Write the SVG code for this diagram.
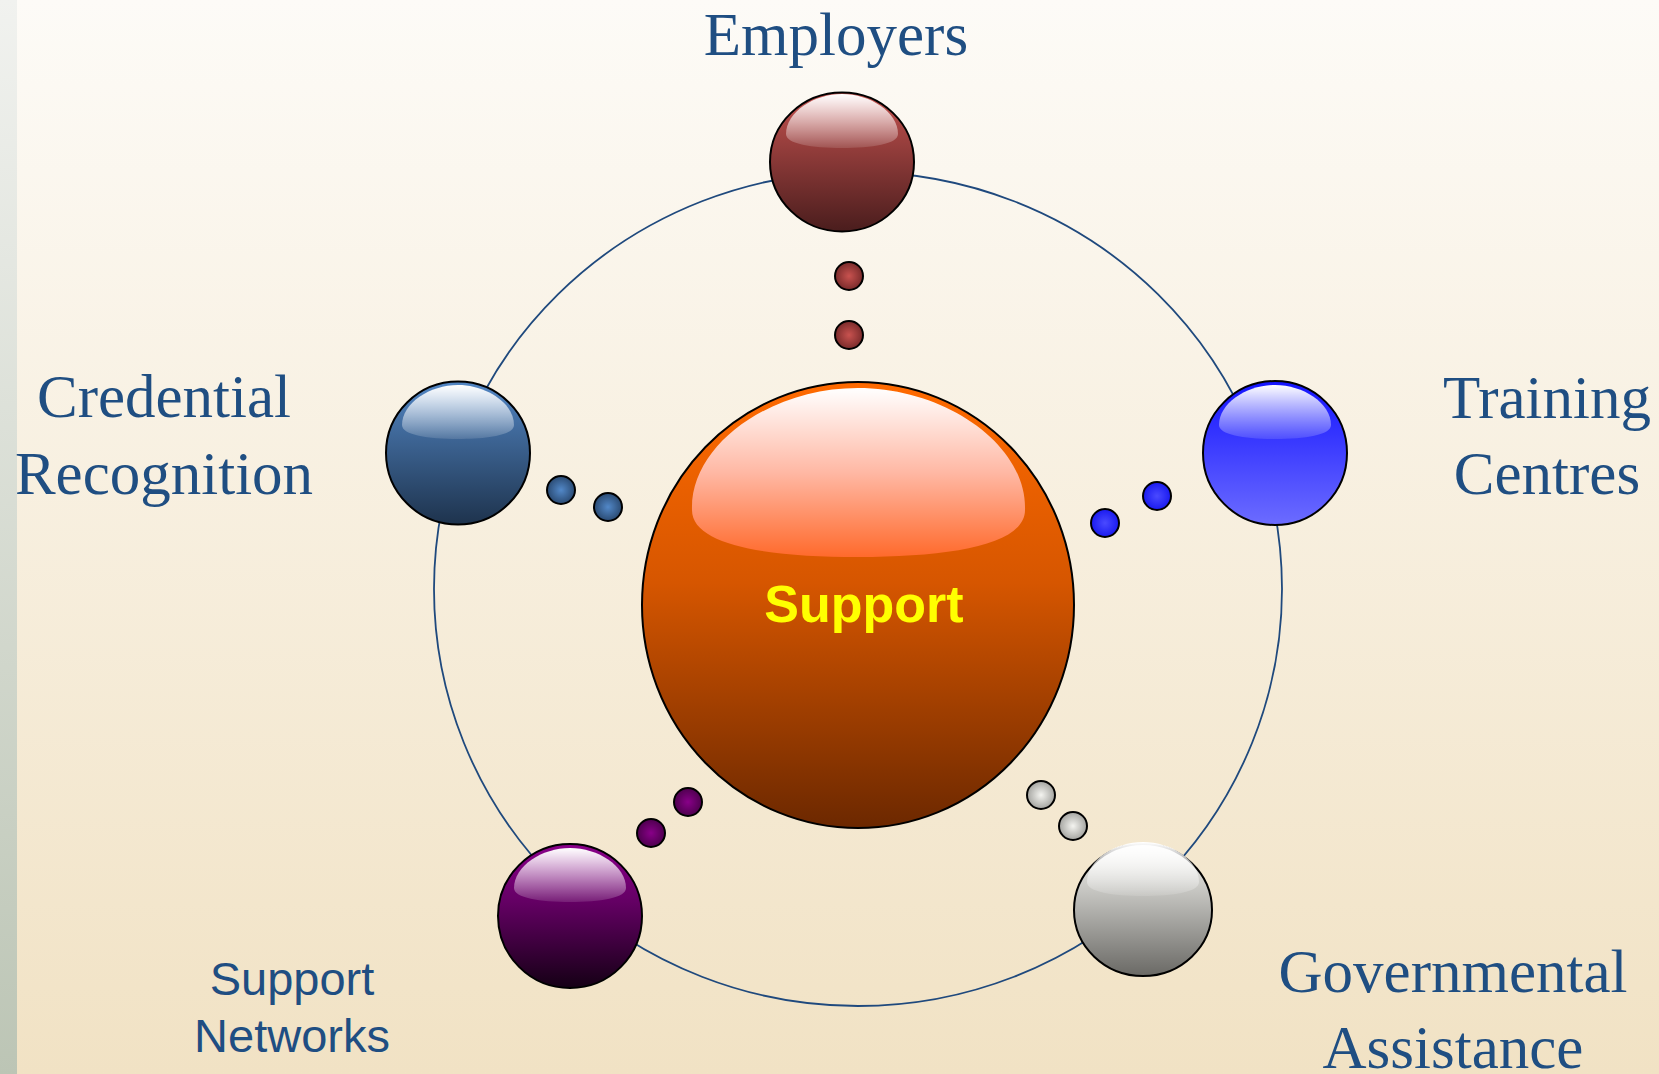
<svg xmlns="http://www.w3.org/2000/svg" xmlns:xlink="http://www.w3.org/1999/xlink" width="1659" height="1074" viewBox="0 0 1659 1074">
<style>
.lbl{font-family:"Liberation Serif","Times New Roman",serif;font-size:61px;fill:#1f4e82;text-anchor:middle}
.lbls{font-family:"Liberation Sans",Arial,sans-serif;font-size:47px;fill:#1f4e82;text-anchor:middle}
.ball{stroke:#000;stroke-width:2}
.dot{stroke:#000;stroke-width:2}
.ring{fill:none;stroke:#1f497d;stroke-width:1.8}
</style>
<defs>
<linearGradient id="bg" x1="0" y1="0" x2="0" y2="1"><stop offset="0" stop-color="#fdfbf7"/><stop offset="1" stop-color="#f1e2c4"/></linearGradient>
<linearGradient id="strip" x1="0" y1="0" x2="0" y2="1"><stop offset="0" stop-color="#f1f2ef"/><stop offset="1" stop-color="#bcc5b5"/></linearGradient>
<linearGradient id="hl" x1="0" y1="0" x2="0" y2="1"><stop offset="0" stop-color="#fff" stop-opacity="1"/><stop offset="1" stop-color="#fff" stop-opacity="0.12"/></linearGradient>
<linearGradient id="hlC" x1="0" y1="0" x2="0" y2="1"><stop offset="0" stop-color="#ffffff"/><stop offset="0.5" stop-color="#ffb8a4"/><stop offset="1" stop-color="#ff6a2c"/></linearGradient>
<linearGradient id="gC" x1="0" y1="0" x2="0" y2="1"><stop offset="0" stop-color="#ff6a00"/><stop offset="0.45" stop-color="#d65600"/><stop offset="1" stop-color="#6c2800"/></linearGradient>
<linearGradient id="gE" x1="0" y1="0" x2="0" y2="1"><stop offset="0" stop-color="#c4524f"/><stop offset="1" stop-color="#4a1d1d"/></linearGradient>
<linearGradient id="gR" x1="0" y1="0" x2="0" y2="1"><stop offset="0" stop-color="#5286c4"/><stop offset="1" stop-color="#1e334d"/></linearGradient>
<linearGradient id="gT" x1="0" y1="0" x2="0" y2="1"><stop offset="0" stop-color="#1414ff"/><stop offset="1" stop-color="#6c6cff"/></linearGradient>
<linearGradient id="gS" x1="0" y1="0" x2="0" y2="1"><stop offset="0" stop-color="#8a008a"/><stop offset="0.4" stop-color="#640064"/><stop offset="1" stop-color="#150015"/></linearGradient>
<linearGradient id="gG" x1="0" y1="0" x2="0" y2="1"><stop offset="0" stop-color="#f8f8f4"/><stop offset="1" stop-color="#6a6965"/></linearGradient>
<radialGradient id="dE"><stop offset="0" stop-color="#c8524f"/><stop offset="1" stop-color="#7a2b2b"/></radialGradient>
<radialGradient id="dR"><stop offset="0" stop-color="#5288c8"/><stop offset="1" stop-color="#2a4a72"/></radialGradient>
<radialGradient id="dT"><stop offset="0" stop-color="#4a4aff"/><stop offset="1" stop-color="#1a1af0"/></radialGradient>
<radialGradient id="dS"><stop offset="0" stop-color="#880088"/><stop offset="1" stop-color="#4e004e"/></radialGradient>
<radialGradient id="dG"><stop offset="0" stop-color="#f4f4f0"/><stop offset="1" stop-color="#a4a4a0"/></radialGradient>
<path id="shine" d="M -56,-28 C -56,-50 -28,-68 0,-68 C 28,-68 56,-50 56,-28 C 56,-18 30,-14 0,-14 C -30,-14 -56,-18 -56,-28 Z" fill="url(#hl)"/>
</defs>
<rect width="1659" height="1074" fill="url(#bg)"/>
<rect width="17" height="1074" fill="url(#strip)"/>
<g id="connectors">
<ellipse class="ring" cx="858" cy="589" rx="424" ry="417"/>
<circle class="dot" cx="849" cy="276" r="14" fill="url(#dE)"/>
<circle class="dot" cx="849" cy="335" r="14" fill="url(#dE)"/>
<circle class="dot" cx="561" cy="490" r="14" fill="url(#dR)"/>
<circle class="dot" cx="608" cy="507" r="14" fill="url(#dR)"/>
<circle class="dot" cx="1157" cy="496" r="14" fill="url(#dT)"/>
<circle class="dot" cx="1105" cy="523" r="14" fill="url(#dT)"/>
<circle class="dot" cx="688" cy="802" r="14" fill="url(#dS)"/>
<circle class="dot" cx="651" cy="833" r="14" fill="url(#dS)"/>
<circle class="dot" cx="1041" cy="795" r="14" fill="url(#dG)"/>
<circle class="dot" cx="1073" cy="826" r="14" fill="url(#dG)"/>
</g>
<g id="node-support">
<ellipse class="ball" cx="858" cy="605" rx="216" ry="223" fill="url(#gC)"/>
<path d="M 692,510 C 690,445 770,388 858,388 C 946,388 1027,445 1025,510 C 1025,545 950,557 858,557 C 766,557 692,545 692,510 Z" fill="url(#hlC)"/>
<text x="864" y="622" style="font-family:'Liberation Sans',Arial,sans-serif;font-size:52px;font-weight:bold;fill:#ffff00;text-anchor:middle">Support</text>
</g>
<g id="node-employers">
<ellipse class="ball" cx="842" cy="162" rx="72" ry="69.5" fill="url(#gE)"/>
<use xlink:href="#shine" x="842" y="162"/>
<text class="lbl" x="836" y="55">Employers</text>
</g>
<g id="node-credential">
<ellipse class="ball" cx="458" cy="453" rx="72" ry="71.5" fill="url(#gR)"/>
<use xlink:href="#shine" x="458" y="453"/>
<text class="lbl" x="164" y="417">Credential</text>
<text class="lbl" x="164" y="494">Recognition</text>
</g>
<g id="node-training">
<ellipse class="ball" cx="1275" cy="453" rx="72" ry="72" fill="url(#gT)"/>
<use xlink:href="#shine" x="1275" y="453"/>
<text class="lbl" x="1547" y="418">Training</text>
<text class="lbl" x="1547" y="494">Centres</text>
</g>
<g id="node-networks">
<ellipse class="ball" cx="570" cy="916" rx="72" ry="72" fill="url(#gS)"/>
<use xlink:href="#shine" x="570" y="916"/>
<text class="lbls" x="292" y="995">Support</text>
<text class="lbls" x="292" y="1052">Networks</text>
</g>
<g id="node-governmental">
<ellipse class="ball" cx="1143" cy="910" rx="69" ry="66" fill="url(#gG)"/>
<use xlink:href="#shine" x="1143" y="910"/>
<text class="lbl" x="1453" y="992">Governmental</text>
<text class="lbl" x="1453" y="1068">Assistance</text>
</g>
</svg>
